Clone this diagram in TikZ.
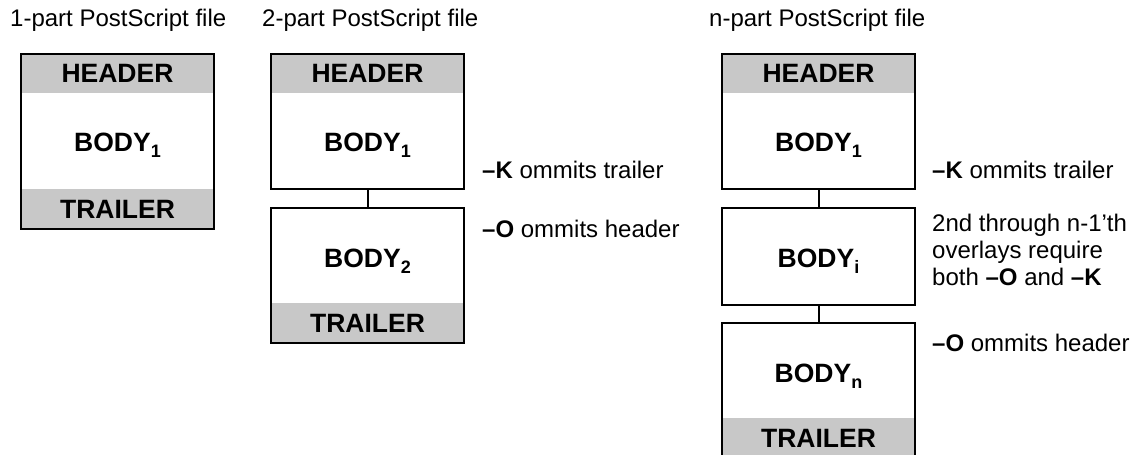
\documentclass[tikz,border=0pt]{standalone}
\usepackage{fontspec}
\setmainfont{Liberation Sans}
\definecolor{bandgray}{RGB}{200,200,200}
\newcommand{\sub}[1]{\raisebox{-6pt}{\fontsize{18}{18}\selectfont\bfseries #1}}
\tikzset{
  frame/.style={draw=black, line width=2pt, minimum width=193pt, inner sep=0pt, outer sep=0pt},
  hdrband/.code={\fill[bandgray] (path picture bounding box.north west) rectangle ([yshift=-39pt]path picture bounding box.north east);},
  trlband/.code={\fill[bandgray] (path picture bounding box.south west) rectangle ([yshift=40pt]path picture bounding box.south east);},
  hdr/.style={path picture={\pgfkeys{/tikz/hdrband}}},
  trl/.style={path picture={\pgfkeys{/tikz/trlband}}},
  hdrtrl/.style={path picture={\pgfkeys{/tikz/hdrband}\pgfkeys{/tikz/trlband}}},
  caps/.style={inner sep=0pt, font=\fontsize{26.5}{30}\selectfont\bfseries},
  body/.style={inner sep=0pt, anchor=base, font=\fontsize{26.5}{30}\selectfont\bfseries},
  title/.style={inner sep=0pt, anchor=base west, font=\fontsize{24}{29}\selectfont},
  note/.style={inner sep=0pt, anchor=west, align=left, font=\fontsize{24}{27}\selectfont},
  link/.style={draw=black, line width=2pt}
}
\begin{document}
\begin{tikzpicture}[x=1pt, y=-1pt]
\useasboundingbox (0,0) rectangle (1138,455);

% titles
\node[title] (t1) at (10,26) {1-part PostScript file};
\node[title] (t2) at (262,26) {2-part PostScript file};
\node[title] (t3) at (709,26) {n-part PostScript file};

% 1-part file
\node[frame, hdrtrl, minimum height=175pt] (f1) at (117.5,141.5) {};
\node[caps] (f1h) at ([yshift=-19.5pt]f1.north) {HEADER};
\node[body] (f1b) at (117.5,151) {BODY\sub{1}};
\node[caps] (f1t) at ([yshift=20pt]f1.south) {TRAILER};

% 2-part file
\node[frame, hdr, minimum height=135pt] (f2a) at (367.5,121.5) {};
\node[caps] (f2ah) at ([yshift=-19.5pt]f2a.north) {HEADER};
\node[body] (f2ab) at (367.5,151) {BODY\sub{1}};
\node[frame, trl, minimum height=135pt] (f2b) at (367.5,275.5) {};
\node[body] (f2bb) at (367.5,267) {BODY\sub{2}};
\node[caps] (f2bt) at ([yshift=20pt]f2b.south) {TRAILER};
\draw[link] (f2a) -- (f2b);
\node[note] (n2k) at (482,170) {\textbf{--K} ommits trailer};
\node[note] (n2o) at (482,229) {\textbf{--O} ommits header};

% n-part file
\node[frame, hdr, minimum height=135pt] (f3a) at (818.5,121.5) {};
\node[caps] (f3ah) at ([yshift=-19.5pt]f3a.north) {HEADER};
\node[body] (f3ab) at (818.5,151) {BODY\sub{1}};
\node[frame, minimum height=97pt] (f3b) at (818.5,256.5) {};
\node[body] (f3bb) at (818.5,267) {BODY\sub{i}};
\node[frame, trl, minimum height=135pt] (f3c) at (818.5,390.5) {};
\node[body] (f3cb) at (818.5,382) {BODY\sub{n}};
\node[caps] (f3ct) at ([yshift=20pt]f3c.south) {TRAILER};
\draw[link] (f3a) -- (f3b);
\draw[link] (f3b) -- (f3c);
\node[note] (n3k) at (932,170) {\textbf{--K} ommits trailer};
\node[note] (n3m) at (932,250) {2nd through n-1’th\\overlays require\\both \textbf{--O} and \textbf{--K}};
\node[note] (n3o) at (932,343) {\textbf{--O} ommits header};
\end{tikzpicture}
\end{document}
